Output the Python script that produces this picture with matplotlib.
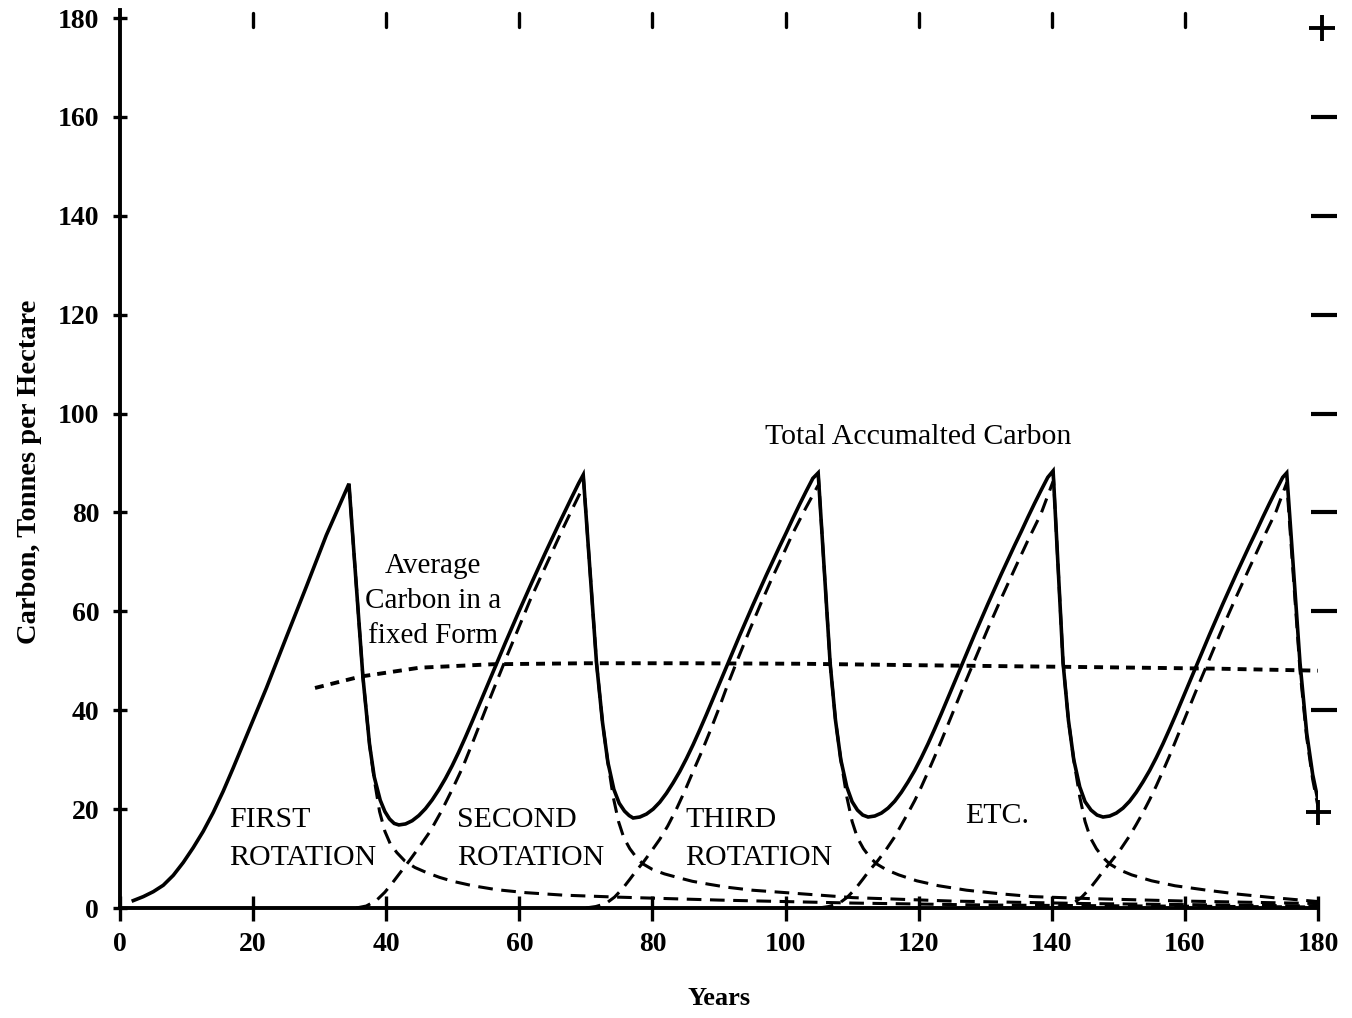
import matplotlib
matplotlib.use("Agg")
import matplotlib.pyplot as plt

# ---------------- data ----------------
total_years = [2, 3.5, 5, 6.5, 8, 9.5, 11, 12.5, 14, 15.5, 17, 19, 22, 25, 28, 31, 34.4,
               36.5, 37.5, 38.2, 39.1, 39.8, 40.5, 41.2, 41.9,
               42.9, 43.9, 44.9, 45.9, 46.9, 47.9, 48.9, 49.9, 50.9, 51.9, 52.9, 53.9, 54.9, 55.9, 56.9, 57.9,
               58.9, 59.9, 60.9, 61.9, 62.9, 63.9, 64.9, 65.9, 66.9, 67.9, 68.9, 69.6,
               71.6, 72.5, 73.3, 74.2, 75, 75.8, 76.5, 77.1,
               78.1, 79.1, 80.1, 81.1, 82.1, 83.1, 84.1, 85.1, 86.1, 87.1, 88.1, 89.1, 90.1, 91.1, 92.1,
               93.1, 94.1, 95.1, 96.1, 97.1, 98.1, 99.1, 100.1, 101.1, 102.1, 103.1, 104.1, 104.9,
               106.7, 107.5, 108.3, 109.2, 110, 110.8, 111.6, 112.4,
               113.4, 114.4, 115.4, 116.4, 117.4, 118.4, 119.4, 120.4, 121.4, 122.4, 123.4, 124.4, 125.4, 126.4,
               127.4, 128.4, 129.4, 130.4, 131.4, 132.4, 133.4, 134.4, 135.4, 136.4, 137.4, 138.4, 139.4, 140.2,
               141.7, 142.5, 143.3, 144.2, 145, 145.9, 146.8, 147.7,
               148.7, 149.7, 150.7, 151.7, 152.7, 153.7, 154.7, 155.7, 156.7, 157.7, 158.7, 159.7, 160.7, 161.7,
               162.7, 163.7, 164.7, 165.7, 166.7, 167.7, 168.7, 169.7, 170.7, 171.7, 172.7, 173.7, 174.7, 175.3,
               177.3, 178.3, 179.2, 180]
total_carbon = [1.5, 2.3, 3.3, 4.6, 6.6, 9.2, 12.2, 15.5, 19.3, 23.6, 28.3, 34.8, 44.5, 54.8, 65, 75.4, 85.8,
                46.7, 33, 26.5, 21.8, 19.5, 18, 17.1, 16.8,
                17.0, 17.65, 18.7, 20.1, 21.85, 23.9, 26.2, 28.75, 31.55, 34.55, 37.67, 40.87, 44.07, 47.27, 50.47, 53.64,
                56.77, 59.86, 62.91, 65.91, 68.88, 71.81, 74.7, 77.55, 80.36, 83.13, 85.86, 87.6,
                49.5, 37.5, 29.5, 24, 21.2, 19.6, 18.7, 18.2,
                18.4, 19.0, 20.0, 21.4, 23.2, 25.3, 27.6, 30.2, 33.0, 36.0, 39.1, 42.3, 45.5, 48.7, 51.9,
                55.1, 58.2, 61.3, 64.3, 67.3, 70.2, 73.1, 75.9, 78.8, 81.6, 84.3, 86.9, 88,
                49.5, 38, 30, 24.5, 21.5, 19.8, 18.8, 18.4,
                18.6, 19.2, 20.2, 21.6, 23.4, 25.5, 27.8, 30.4, 33.2, 36.2, 39.3, 42.5, 45.7, 48.9,
                52.1, 55.3, 58.4, 61.5, 64.5, 67.5, 70.4, 73.3, 76.1, 79.0, 81.8, 84.5, 87.1, 88.4,
                49.5, 38, 30, 24.5, 21.5, 19.8, 18.8, 18.4,
                18.6, 19.2, 20.2, 21.6, 23.4, 25.5, 27.8, 30.4, 33.2, 36.2, 39.3, 42.5, 45.7, 48.9,
                52.1, 55.3, 58.4, 61.5, 64.5, 67.5, 70.4, 73.3, 76.1, 79.0, 81.8, 84.5, 87.1, 88,
                49.5, 35.4, 27, 21.8]

# new growth of each later rotation (dashed)
growth2_years = [35.5, 37, 38.5, 39.8, 41, 42.3, 43.5, 45, 46.6, 48.3, 50, 51.5, 53.2, 55, 56.6, 58.3, 60,
                 61.6, 63.3, 65, 66.6, 68.1, 69.6]
growth2_carbon = [0, 0.4, 1.5, 3.2, 5.2, 7.5, 9.6, 12.4, 15.5, 19.6, 24.2, 28.5, 34.2, 40.4, 45.8, 51.5, 57,
                  62.2, 67.2, 72.2, 76.9, 81.1, 85.2]
growth3_years = [70, 71.5, 73, 74.3, 75.5, 76.6, 77.6, 78.6, 80, 81.1, 82.3, 83.6, 84.9, 86.1, 87.4, 88.7, 90,
                 91.2, 92.9, 94.6, 96.2, 97.8, 99.5, 101.1, 103, 104.9]
growth3_carbon = [0, 0.3, 0.9, 2.2, 3.9, 5.8, 7.6, 9.2, 11.8, 13.9, 16.6, 20, 23.8, 27.6, 31.6, 35.9, 40.4,
                  44.8, 50.6, 56.2, 61.3, 66.2, 71.1, 75.8, 80.8, 85.5]
growth4_years = [105, 106.5, 108, 109.3, 110.5, 111.6, 112.6, 113.7, 115, 116.3, 117.4, 118.4, 119.4, 120.4,
                 121.4, 122.4, 123.4, 124.4, 125.4, 126.4, 127.4, 128.9, 130.4, 132.4, 134.4, 136.4, 138.4, 140.2]
growth4_carbon = [0, 0.3, 0.9, 2.2, 3.9, 5.8, 7.6, 9.3, 11.6, 14.2, 16.8, 19.2, 21.7, 24.5,
                  27.5, 30.6, 33.8, 37.1, 40.4, 43.7, 46.9, 51.7, 56.5, 62.6, 68.5, 74.3, 79.8, 86.3]
growth5_years = [140.2, 141.7, 143.2, 144.5, 145.7, 146.8, 147.8, 148.9, 150.2, 151.7, 152.7, 153.7, 154.7,
                 155.7, 156.7, 157.7, 158.7, 159.7, 160.7, 161.7, 162.7, 164.2, 165.7, 167.7, 169.7, 171.7,
                 173.7, 175.3, 177.3, 178.3, 179.2, 180]
growth5_carbon = [0, 0.3, 0.9, 2.2, 3.9, 5.8, 7.6, 9.4, 11.6, 14.6, 16.9, 19.3, 21.9,
                  24.7, 27.7, 30.8, 34.1, 37.4, 40.7, 44.0, 47.2, 52.0, 56.8, 62.9, 68.8, 74.6,
                  80.2, 86, 48, 34.5, 26, 20.5]

# decay of harvested carbon after each harvest (dashed)
decay1_years = [34.4, 36.5, 37.5, 38.2, 39, 39.8, 40.6, 41.6, 42.8, 44.3, 46, 48, 50, 53, 56.6, 61, 66.6,
                74.7, 90, 110, 130, 155, 180]
decay1_carbon = [85.8, 46.7, 33, 26, 19.5, 15.5, 13, 11.2, 9.5, 8.2, 7.2, 6.2, 5.4, 4.5, 3.7, 3.1, 2.6,
                 2.2, 1.6, 1.0, 0.6, 0.4, 0.2]
decay2_years = [69.6, 71.6, 72.5, 73.3, 74.1, 74.9, 75.7, 76.6, 77.6, 78.6, 80, 81.8, 83.7, 86, 88.5, 91.2,
                95, 101.1, 110.1, 125, 145, 180]
decay2_carbon = [87.6, 49.5, 37.5, 29.5, 22.5, 17.5, 14.2, 12, 10.2, 8.9, 7.8, 6.9, 6.2, 5.4, 4.8, 4.2,
                 3.6, 3.0, 2.1, 1.4, 0.9, 0.4]
decay3_years = [104.9, 106.7, 107.5, 108.3, 109.2, 110, 110.8, 111.7, 112.7, 113.7, 115.2, 117, 119.7, 123,
                127.2, 132, 137.2, 145.7, 160, 180]
decay3_carbon = [88, 49.5, 38, 30, 22.5, 17.5, 14.2, 12, 10.2, 8.9, 7.7, 6.7, 5.5, 4.5,
                 3.6, 2.9, 2.3, 1.9, 1.4, 0.9]
decay4_years = [140.2, 141.7, 142.5, 143.3, 144.2, 145, 145.8, 146.7, 147.7, 148.7, 150.2, 152, 155, 158.5,
                163.3, 168, 173.2, 180]
decay4_carbon = [88.4, 49.5, 38, 30, 22.5, 17.5, 14.2, 12, 10.2, 8.9, 7.7, 6.7, 5.5, 4.5,
                 3.6, 2.8, 2.1, 1.3]

# average carbon held in a fixed form (fine dashes)
avg_years = [29.3, 36.1, 45, 56, 70, 85, 102.2, 120, 147.2, 165, 180]
avg_carbon = [44.5, 46.8, 48.6, 49.3, 49.5, 49.5, 49.4, 49.1, 48.7, 48.4, 48.0]

x_ticks = [0, 20, 40, 60, 80, 100, 120, 140, 160, 180]
y_ticks = [0, 20, 40, 60, 80, 100, 120, 140, 160, 180]
top_ticks = [20, 40, 60, 80, 100, 120, 140, 160]
right_ticks = [40, 60, 80, 100, 120, 140, 160]

# ---------------- figure ----------------
SERIF = ["Liberation Serif", "DejaVu Serif"]
plt.rcParams["font.family"] = SERIF

fig = plt.figure(figsize=(13.52, 10.18), dpi=100)
ax = fig.add_axes([120 / 1352, 110 / 1018, 1198 / 1352, 890 / 1018])
ax.set_xlim(0, 180)
ax.set_ylim(0, 180)

ax.plot(total_years, total_carbon, color="black", lw=2.6, solid_joinstyle="miter")

dash_kw = dict(color="black", lw=2.2, dashes=(4.8, 2.8))
for xs, ys in [(growth2_years, growth2_carbon), (growth3_years, growth3_carbon),
               (growth4_years, growth4_carbon), (growth5_years, growth5_carbon),
               (decay1_years, decay1_carbon), (decay2_years, decay2_carbon),
               (decay3_years, decay3_carbon), (decay4_years, decay4_carbon)]:
    ax.plot(xs, ys, **dash_kw)

ax.plot(avg_years, avg_carbon, color="black", lw=2.8, dashes=(2.3, 1.8))

# spines & ticks
for s in ["top", "right"]:
    ax.spines[s].set_visible(False)
ax.spines["left"].set_linewidth(2.8)
ax.spines["bottom"].set_linewidth(2.8)
ax.spines["left"].set_bounds(0, 181.7)

ax.set_xticks(x_ticks)
ax.set_yticks(y_ticks)
ax.tick_params(axis="x", which="major", direction="inout", length=18, width=2.4,
               pad=8, labelsize=20)
ax.tick_params(axis="y", which="major", direction="inout", length=10, width=2.4,
               pad=10, labelsize=20)
for lab in ax.get_xticklabels() + ax.get_yticklabels():
    lab.set_fontweight("bold")

# top tick marks (no spine)
for xv in top_ticks:
    ax.plot([xv, xv], [178.2, 181.0], color="black", lw=2.4, clip_on=False,
            solid_capstyle="round")
# right-hand marks
ax.plot([180.9] * len(right_ticks), right_ticks, ls="none", marker="_",
        markersize=19, mew=3.0, color="black", clip_on=False)
ax.plot([180.6], [178.0], ls="none", marker="+", markersize=19, mew=2.8,
        color="black", clip_on=False)
ax.plot([180.0], [19.5], ls="none", marker="+", markersize=18, mew=2.8,
        color="black", clip_on=False)

ax.set_xlabel("Years", fontsize=19, fontweight="bold", labelpad=22)
ax.set_ylabel("Carbon, Tonnes per Hectare", fontsize=20.5, fontweight="bold")
ax.yaxis.set_label_coords(-0.0655, 0.49)

# annotations
ax.text(119.9, 95.3, "Total Accumalted Carbon", fontsize=21.5, ha="center", va="center")
ax.text(47.0, 62.0, "Average\nCarbon in a\nfixed Form", fontsize=21, ha="center",
        va="center", multialignment="center", linespacing=1.45)
ax.text(16.4, 14.0, "FIRST\nROTATION", fontsize=21.5, ha="left", va="center", linespacing=1.62)
ax.text(50.6, 14.0, "SECOND\nROTATION", fontsize=21.5, ha="left", va="center", linespacing=1.62)
ax.text(84.9, 14.0, "THIRD\nROTATION", fontsize=21.5, ha="left", va="center", linespacing=1.62)
ax.text(127.0, 18.6, "ETC.", fontsize=21.5, ha="left", va="center")

fig.savefig("out.png", dpi=100)
